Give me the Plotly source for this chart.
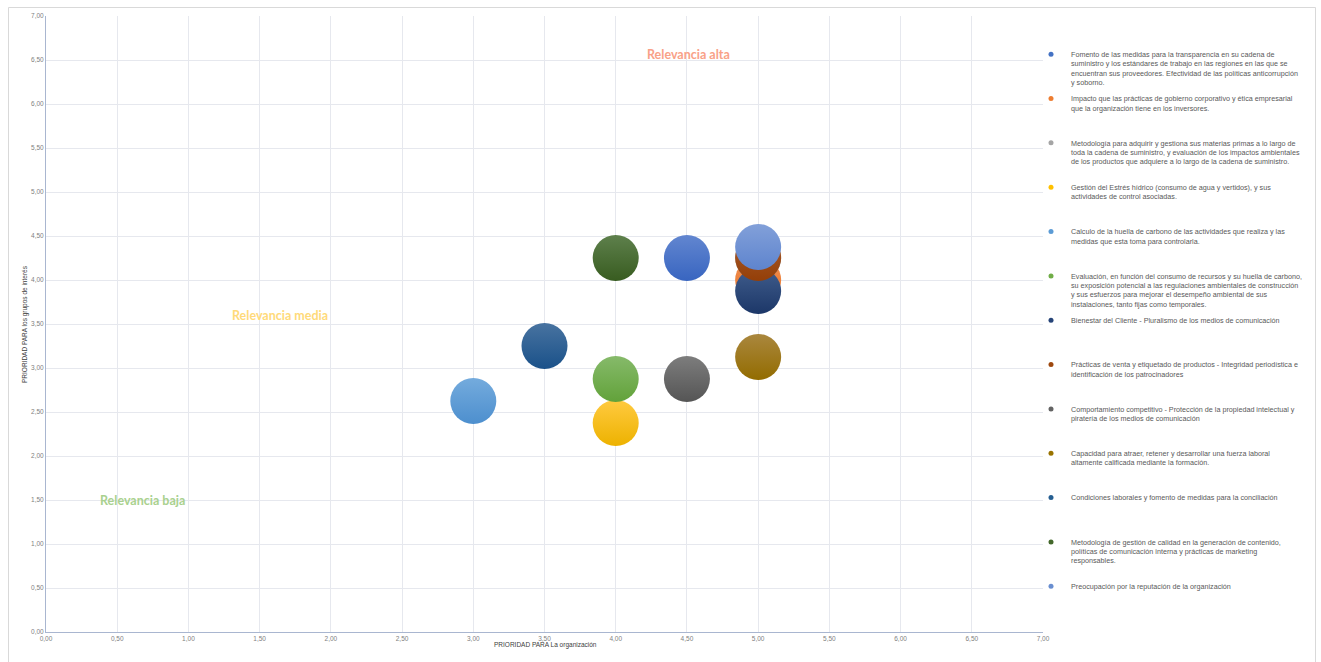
import plotly.graph_objects as go

W, H = 1321, 662

labels = [
    "Fomento de las medidas para la transparencia en su cadena de<br>suministro y los estándares de trabajo en las regiones en las que se<br>encuentran sus proveedores. Efectividad de las políticas anticorrupción<br>y soborno.",
    "Impacto que las prácticas de gobierno corporativo y ética empresarial<br>que la organización tiene en los inversores.",
    "Metodología para adquirir y gestiona sus materias primas a lo largo de<br>toda la cadena de suministro, y evaluación de los impactos ambientales<br>de los productos que adquiere a lo largo de la cadena de suministro.",
    "Gestión del Estrés hídrico (consumo de agua y vertidos), y sus<br>actividades de control asociadas.",
    "Calculo de la huella de carbono de las actividades que realiza y las<br>medidas que esta toma para controlarla.",
    "Evaluación, en función del consumo de recursos y su huella de carbono,<br>su exposición potencial a las regulaciones ambientales de construcción<br>y sus esfuerzos para mejorar el desempeño ambiental de sus<br>instalaciones, tanto fijas como temporales.",
    "Bienestar del Cliente - Pluralismo de los medios de comunicación",
    "Prácticas de venta y etiquetado de productos - Integridad periodística e<br>identificación de los patrocinadores",
    "Comportamiento competitivo - Protección de la propiedad intelectual y<br>piratería de los medios de comunicación",
    "Capacidad para atraer, retener y desarrollar una fuerza laboral<br>altamente calificada mediante la formación.",
    "Condiciones laborales y fomento de medidas para la conciliación",
    "Metodología de gestión de calidad en la generación de contenido,<br>políticas de comunicación interna y prácticas de marketing<br>responsables.",
    "Preocupación por la reputación de la organización",
]
prioridad_organizacion = [4.5, 5.0, 5.0, 4.0, 3.0, 4.0, 5.0, 5.0, 4.5, 5.0, 3.5, 4.0, 5.0]
prioridad_grupos = [4.25, 4.0, 4.25, 2.375, 2.625, 2.875, 3.875, 4.25, 2.875, 3.125, 3.25, 4.25, 4.375]

base_colors = ["#4472C4", "#ED7D31", "#A5A5A5", "#FFC000", "#5B9BD5", "#70AD47",
               "#264478", "#9E480E", "#636363", "#997300", "#255E91", "#43682B", "#698ED0"]
top_colors = ["#6286D0", "#F09258", "#B5B5B5", "#FFCA40", "#74ABDD", "#86BA6A",
              "#405D8C", "#A95C2E", "#7D7D7D", "#AA873E", "#4873A0", "#5E804C", "#82A0D9"]
bottom_colors = ["#3865C0", "#E8701F", "#999999", "#EDB200", "#4D8FCE", "#62A23A",
                 "#1C3768", "#943F08", "#555555", "#936C00", "#1A5189", "#385C20", "#5E84CE"]

fig = go.Figure()

# bubbles
for i in range(len(labels)):
    fig.add_trace(go.Scatter(
        x=[prioridad_organizacion[i]], y=[prioridad_grupos[i]],
        mode="markers", showlegend=False, hoverinfo="skip",
        marker=dict(size=46, color=top_colors[i], line=dict(width=0),
                    gradient=dict(type="vertical", color=bottom_colors[i])),
    ))

# legend entries
def pad(t, n=4):
    k = t.count("<br>") + 1
    return t + "<br> " * (n - k)

for i in range(len(labels)):
    fig.add_trace(go.Scatter(
        x=[None], y=[None], mode="markers", name=pad(labels[i]),
        legendgroup="g%d" % i,
        marker=dict(size=5, color=base_colors[i]),
    ))

tick_font = dict(family="Liberation Sans, Arial, sans-serif", size=6.5, color="#808080")

fig.update_xaxes(range=[0, 7], dtick=0.5, tick0=0, tickformat=".2f",
                 showgrid=True, gridcolor="#E6E8EE", gridwidth=1,
                 showline=True, linecolor="#A9B6D0", linewidth=1,
                 zeroline=False, ticks="", tickfont=tick_font, automargin=False)
fig.update_yaxes(range=[0, 7], dtick=0.5, tick0=0, tickformat=".2f",
                 showgrid=True, gridcolor="#E6E8EE", gridwidth=1,
                 showline=True, linecolor="#A9B6D0", linewidth=1,
                 zeroline=False, ticks="", tickfont=tick_font, automargin=False)

def px_x(p):
    return (p - 46) / 997.0

def px_y(p):
    return (632 - p) / 616.0

annotations = [
    dict(text="<b>Relevancia alta</b>", x=4.51, y=6.56, xref="x", yref="y", showarrow=False,
         font=dict(family="Lato, sans-serif", size=12.5, color="#F9A187")),
    dict(text="<b>Relevancia media</b>", x=1.64, y=3.6, xref="x", yref="y", showarrow=False,
         font=dict(family="Lato, sans-serif", size=12.5, color="#FFDA7A")),
    dict(text="<b>Relevancia baja</b>", x=0.68, y=1.49, xref="x", yref="y", showarrow=False,
         font=dict(family="Lato, sans-serif", size=12.5, color="#A9D18E")),
    dict(text="PRIORIDAD PARA La organización", x=px_x(545), y=px_y(651), xref="paper", yref="paper",
         showarrow=False, font=dict(family="Liberation Sans, Arial, sans-serif", size=6.5, color="#404040")),
    dict(text="PRIORIDAD PARA los grupos de interés", x=px_x(19), y=px_y(324), xref="paper", yref="paper",
         textangle=-90, showarrow=False,
         font=dict(family="Liberation Sans, Arial, sans-serif", size=6.5, color="#404040")),
]

fig.update_layout(
    width=W, height=H,
    margin=dict(l=46, r=W - 1043, t=16, b=H - 632, autoexpand=False),
    paper_bgcolor="white", plot_bgcolor="white",
    separators=",.",
    annotations=annotations,
    legend=dict(xref="container", yref="container", x=1031 / W, y=1 - 43 / H,
                xanchor="left", yanchor="top", valign="top",
                tracegroupgap=3.9, maxheight=650,
                font=dict(family="Liberation Sans, Arial, sans-serif", size=7.2, color="#595959"),
                bgcolor="rgba(0,0,0,0)", itemclick=False, itemdoubleclick=False),
    shapes=[dict(type="rect", xref="paper", yref="paper",
                 x0=px_x(8.5), x1=px_x(1315.5), y0=px_y(668), y1=px_y(7.5),
                 line=dict(color="#D9D9D9", width=1), fillcolor="rgba(0,0,0,0)", layer="below")],
)

fig.write_html("out.html")
